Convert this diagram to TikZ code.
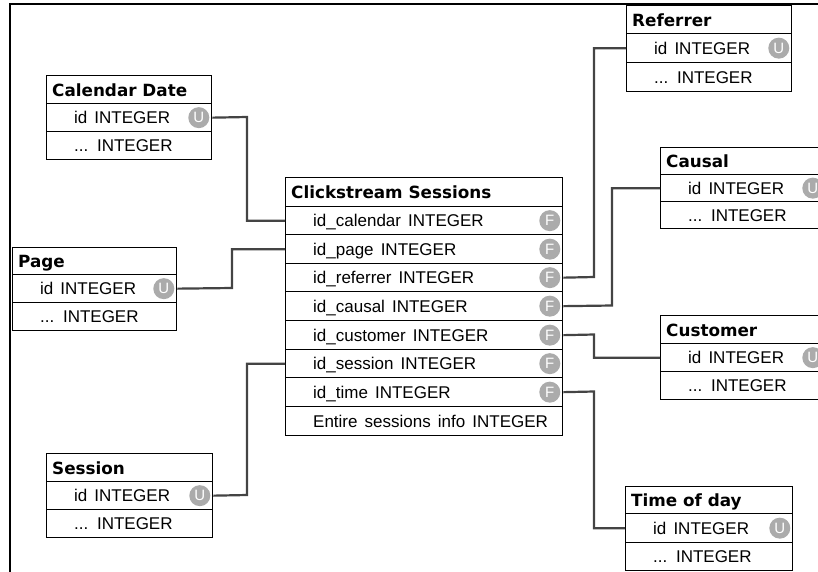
\documentclass[tikz,border=0pt]{standalone}
\usepackage{fontspec}
\setmainfont{Liberation Sans}[WordSpace=1.5]
\newfontfamily\ttlfont{DejaVu Sans}
\newfontfamily\badgefont{Liberation Sans}

\definecolor{badgegray}{HTML}{ABABAB}
\definecolor{conngray}{HTML}{444444}

\tikzset{
  cell/.style={draw=black, line width=1.3pt, fill=white, rectangle, inner sep=0pt, anchor=north west},
  ttltext/.style={anchor=base west, inner sep=0pt, font=\ttlfont\bfseries\fontsize{16.8}{20}\selectfont},
  rowtext/.style={anchor=base west, inner sep=0pt, font=\fontsize{17}{20}\selectfont},
  badge/.style={circle, fill=badgegray, inner sep=0pt, minimum size=21pt, text=white,
    font=\badgefont\fontsize{15}{15}\selectfont},
  conn/.style={draw=conngray, line width=2.2pt},
  frame/.style={draw=black, line width=2.6pt},
}

% title cell: name, x, top, width, height, text
\newcommand\ertitle[6]{%
  \node[cell, minimum width=#4pt, minimum height=#5pt] (#1) at (#2,#3) {};
  \node[ttltext] (#1-t) at ([xshift=6pt,yshift=-6.5pt]#1.west) {#6};}
% field cell: name, x, top, width, height, text, key badge
\newcommand\erfield[7]{%
  \node[cell, minimum width=#4pt, minimum height=#5pt] (#1) at (#2,#3) {};
  \node[rowtext] (#1-t) at ([xshift=28pt,yshift=-6pt]#1.west) {#6};
  \if\relax\detokenize{#7}\relax\else
    \node[badge] (#1-b) at ([xshift=-13.5pt]#1.east) {#7};\fi}

\begin{document}
\begin{tikzpicture}[x=1pt,y=-1pt]
\useasboundingbox (0,0) rectangle (818,571);
\clip (0,0) rectangle (818,571);

% outer frame
\draw[frame] (10,600) -- (10,4) -- (900,4);

% Calendar Date
\ertitle{cd}{46}{75}{165}{28}{Calendar Date}
\erfield{cd-id}{46}{103}{165}{28}{id INTEGER}{U}
\erfield{cd-x}{46}{131}{165}{28}{... INTEGER}{}

% Page
\ertitle{pg}{12}{247}{164}{27}{Page}
\erfield{pg-id}{12}{274}{164}{28}{id INTEGER}{U}
\erfield{pg-x}{12}{302}{164}{28}{... INTEGER}{}

% Session
\ertitle{se}{46}{453}{166}{28}{Session}
\erfield{se-id}{46}{481}{166}{28}{id INTEGER}{U}
\erfield{se-x}{46}{509}{166}{28}{... INTEGER}{}

% Referrer
\ertitle{rf}{626}{5}{165}{28}{Referrer}
\erfield{rf-id}{626}{33}{165}{29}{id INTEGER}{U}
\erfield{rf-x}{626}{62}{165}{29}{... INTEGER}{}

% Causal
\ertitle{ca}{660}{147}{165}{27}{Causal}
\erfield{ca-id}{660}{174}{165}{27}{id INTEGER}{U}
\erfield{ca-x}{660}{201}{165}{27}{... INTEGER}{}

% Customer
\ertitle{cu}{660}{315}{165}{28}{Customer}
\erfield{cu-id}{660}{343}{165}{28}{id INTEGER}{U}
\erfield{cu-x}{660}{371}{165}{28}{... INTEGER}{}

% Time of day
\ertitle{td}{625}{486}{167}{27}{Time of day}
\erfield{td-id}{625}{513}{167}{29}{id INTEGER}{U}
\erfield{td-x}{625}{542}{167}{28}{... INTEGER}{}

% Clickstream Sessions (fact table)
\ertitle{cs}{285}{177}{277}{29}{Clickstream Sessions}
\erfield{cs-cal}{285}{206}{277}{28}{id\_calendar INTEGER}{F}
\erfield{cs-page}{285}{234}{277}{29}{id\_page INTEGER}{F}
\erfield{cs-ref}{285}{263}{277}{28}{id\_referrer INTEGER}{F}
\erfield{cs-cau}{285}{291}{277}{29}{id\_causal INTEGER}{F}
\erfield{cs-cus}{285}{320}{277}{29}{id\_customer INTEGER}{F}
\erfield{cs-ses}{285}{349}{277}{28}{id\_session INTEGER}{F}
\erfield{cs-time}{285}{377}{277}{29}{id\_time INTEGER}{F}
\erfield{cs-info}{285}{406}{277}{29}{Entire sessions info INTEGER}{}

% foreign key links
\draw[conn] (cd-id.east) -- (247,117) |- (cs-cal.west);
\draw[conn] (pg-id.east) -- (232,288) |- (cs-page.west);
\draw[conn] (se-id.east) -- (247,495) |- (cs-ses.west);
\draw[conn] (cs-ref.east) -- (594,277) |- (rf-id.west);
\draw[conn] (cs-cau.east) -- (612,305.5) |- (ca-id.west);
\draw[conn] (cs-cus.east) -- (594,334.5) |- (cu-id.west);
\draw[conn] (cs-time.east) -- (594,391.5) |- (td-id.west);
\end{tikzpicture}
\end{document}
